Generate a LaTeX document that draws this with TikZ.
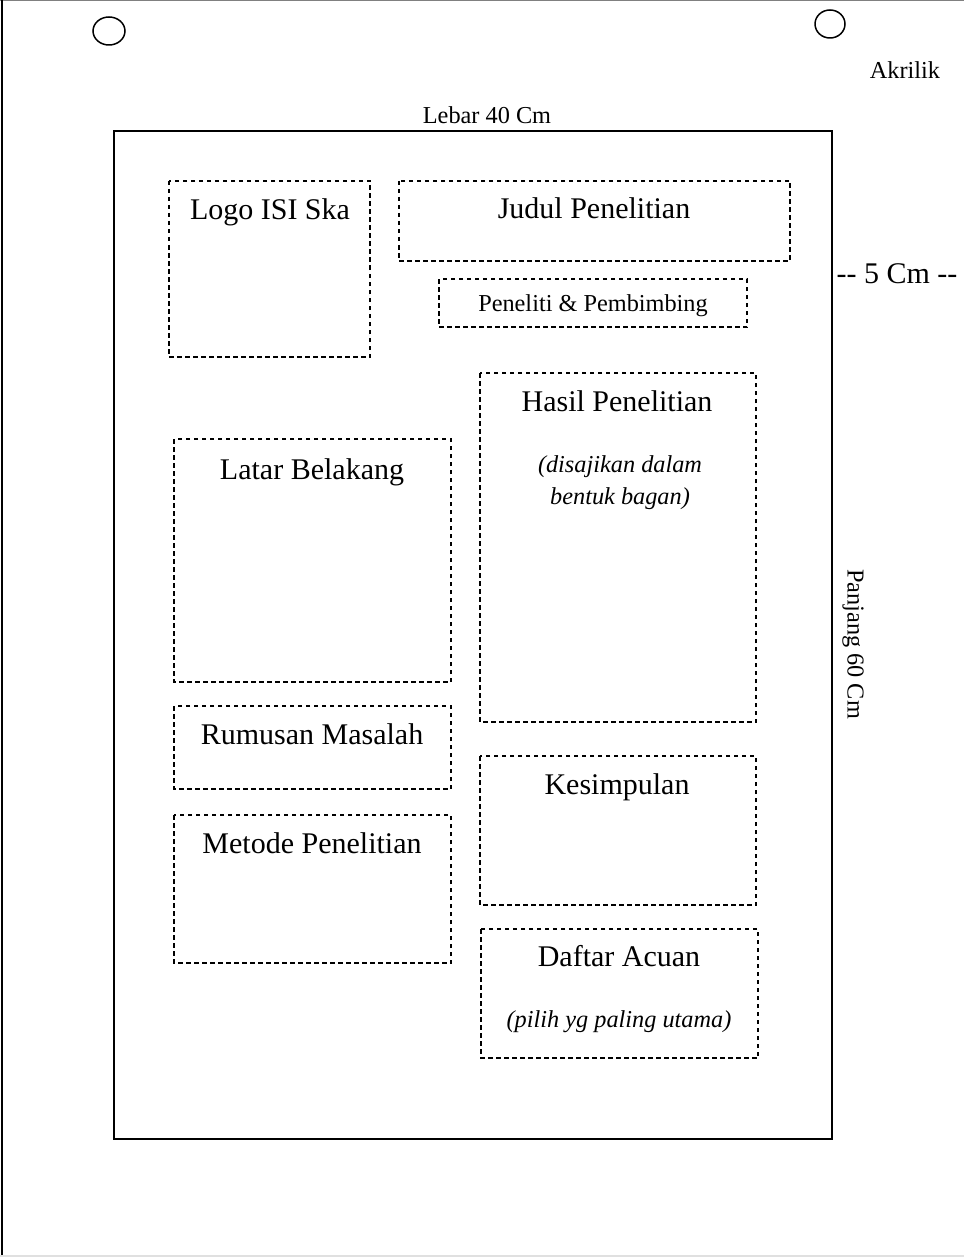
\documentclass[tikz,border=0pt]{standalone}
\usepackage{fontspec}
\setmainfont{Liberation Serif}[Ligatures=NoCommon]
\begin{document}
\begin{tikzpicture}[x=1pt,y=-1pt,
  dbox/.style={draw=black, line width=1.5pt, dash pattern=on 4.5pt off 3.5pt, inner sep=0pt},
  big/.style={font=\fontsize{30}{36}\selectfont, anchor=base, inner sep=0pt},
  small/.style={font=\fontsize{24.3}{29}\selectfont, anchor=base, inner sep=0pt},
  smallit/.style={font=\fontsize{24.3}{29}\selectfont\itshape, anchor=base, inner sep=0pt},
  hole/.style={draw=black, line width=1.5pt}]
\useasboundingbox (0,0) rectangle (964,1257);
% outer sheet
\draw[gray, line width=1.2pt] (0,0.6) -- (964,0.6);
\draw[black, line width=2pt] (2,0) -- (2,1257);
\draw[black!12, line width=1.2pt] (0,1256) -- (964,1256);
% holes
\draw[hole] (109,31) ellipse [x radius=16, y radius=14];
\draw[hole] (830,24) ellipse [x radius=15, y radius=14];
\node[small] (akrilik) at (905,79) {Akrilik};
% board
\draw[line width=2pt] (114,131) rectangle (832,1139);
\node[small] (lebar) at (487,124) {Lebar 40 Cm};
\node[big] (lima) at (897,283) {-{}- 5 Cm -{}-};
\node[font=\fontsize{24.3}{29}\selectfont, rotate=-90, inner sep=0pt] (panjang) at (853,644) {Panjang 60 Cm};
% boxes
\draw[dbox] (169,181) rectangle (370,357);
\node[big] (logo) at (270,220) {Logo ISI Ska};
\draw[dbox] (399,181) rectangle (790,261);
\node[big] (judul) at (594,219) {Judul Penelitian};
\draw[dbox] (439,279) rectangle (747,327);
\node[small] (peneliti) at (593,311) {Peneliti \& Pembimbing};
\draw[dbox] (480,373) rectangle (756,722);
\node[big] (hasil) at (617,411) {Hasil Penelitian};
\node[smallit] (hasil1) at (620,472) {(disajikan dalam};
\node[smallit] (hasil2) at (620,504) {bentuk bagan)};
\draw[dbox] (174,439) rectangle (451,682);
\node[big] (latar) at (312,479) {Latar Belakang};
\draw[dbox] (174,706) rectangle (451,789);
\node[big] (rumusan) at (312,744) {Rumusan Masalah};
\draw[dbox] (174,815) rectangle (451,963);
\node[big] (metode) at (312,853) {Metode Penelitian};
\draw[dbox] (480,756) rectangle (756,905);
\node[big] (kesimpulan) at (617,794) {Kesimpulan};
\draw[dbox] (481,929) rectangle (758,1058);
\node[big] (daftar) at (619,966) {Daftar Acuan};
\node[smallit] (daftar1) at (619,1027) {(pilih yg paling utama)};
\end{tikzpicture}
\end{document}
